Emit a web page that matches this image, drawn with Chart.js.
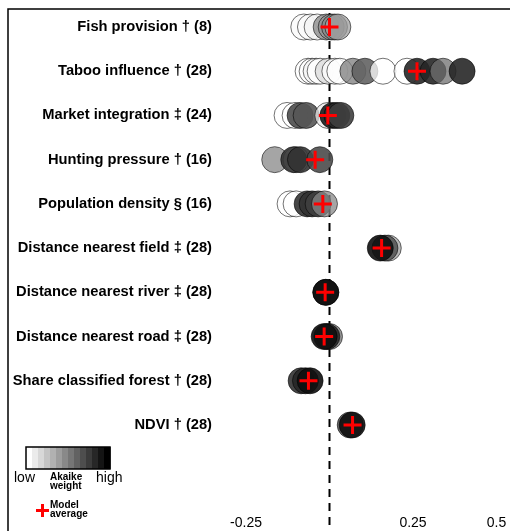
<!DOCTYPE html>
<html>
<head>
<meta charset="utf-8">
<script src="https://cdn.jsdelivr.net/npm/chart.js@4/dist/chart.umd.min.js"></script>
<style>
  html, body { margin: 0; padding: 0; background: #fff; }
  #wrap { width: 510px; height: 531px; position: relative; }
</style>
</head>
<body>
<div id="wrap"><canvas id="chart"></canvas></div>
<script>
// row labels (top to bottom)
const rowNames = [
    'Fish provision \u2020 (8)',
    'Taboo influence \u2020 (28)',
    'Market integration \u2021 (24)',
    'Hunting pressure \u2020 (16)',
    'Population density \u00a7 (16)',
    'Distance nearest field \u2021 (28)',
    'Distance nearest river \u2021 (28)',
    'Distance nearest road \u2021 (28)',
    'Share classified forest \u2020 (28)',
    'NDVI \u2020 (28)'
];

// model estimates per row, and their Akaike weights (0 = low, 1 = high)
const estimates = [
    [-0.077, -0.057, -0.037, -0.01, 0.005, 0.015, 0.025],
    [-0.064, -0.052, -0.040, -0.028, -0.004, 0.016, 0.031, 0.070, 0.106, 0.160, 0.232, 0.262, 0.310, 0.340, 0.397],
    [-0.127, -0.103, -0.088, -0.070, -0.005, 0.010, 0.022, 0.034],
    [-0.164, -0.100, -0.107, -0.087, -0.029],
    [-0.118, -0.100, -0.067, -0.052, -0.034, -0.015],
    [0.176, 0.166, 0.152],
    [-0.011, -0.011],
    [0.000, -0.008, -0.016],
    [-0.085, -0.072, -0.058],
    [0.062, 0.068]
];
const weights = [
    [0.02, 0.02, 0.05, 0.5, 0.45, 0.5, 0.4],
    [0, 0, 0.05, 0, 0.15, 0, 0, 0.55, 0.65, 0, 0, 0.9, 0.9, 0.6, 0.9],
    [0, 0, 0.75, 0.7, 0.1, 0.95, 0.9, 0.8],
    [0.5, 0, 0.85, 0.85, 0.75],
    [0, 0, 0.85, 0.85, 0.8, 0.5],
    [0.4, 0.7, 1],
    [0.9, 1],
    [0.6, 0.9, 1],
    [0.85, 0.9, 1],
    [0.7, 1]
];

// model-averaged estimate per row
const modelAverage = [0.0, 0.262, -0.005, -0.043, -0.02, 0.156, -0.013, -0.016, -0.063, 0.069];

// x axis tick labels
const xTicks = [-0.25, 0.25, 0.5];

const FONT = 'Liberation Sans, Arial, sans-serif';

function weightColor(w) {
    const g = Math.round(255 - 240 * w);
    return `rgba(${g}, ${g}, ${g}, ${w > 0.6 ? 0.9 : 0.75})`;
}

const modelPoints = [];
const modelColors = [];
estimates.forEach((row, i) => {
    row.forEach((v, j) => {
        modelPoints.push({ x: v, y: i });
        modelColors.push(weightColor(weights[i][j]));
    });
});

const avgPoints = modelAverage.map((v, i) => ({ x: v, y: i }));

// frame, dashed zero line and the legend box
const decorations = {
    id: 'decorations',
    beforeDatasetsDraw(chart) {
        const ctx = chart.ctx;
        const x0 = chart.scales.x.getPixelForValue(0);
        ctx.save();
        ctx.strokeStyle = '#000';
        ctx.lineWidth = 2;
        ctx.setLineDash([8, 6]);
        ctx.beginPath();
        ctx.moveTo(x0, 13);
        ctx.lineTo(x0, 531);
        ctx.stroke();
        ctx.restore();
    },
    afterDraw(chart) {
        const ctx = chart.ctx;
        ctx.save();
        // frame
        ctx.strokeStyle = '#000';
        ctx.lineWidth = 1.5;
        ctx.beginPath();
        ctx.moveTo(8, 531);
        ctx.lineTo(8, 9);
        ctx.lineTo(510, 9);
        ctx.stroke();

        // weight gradient
        const bx = 26, by = 447, bw = 84, bh = 22, steps = 14;
        for (let i = 0; i < steps; i++) {
            const g = Math.round(255 - 255 * i / (steps - 1));
            ctx.fillStyle = `rgb(${g},${g},${g})`;
            ctx.fillRect(bx + i * bw / steps, by, bw / steps + 0.5, bh);
        }
        ctx.strokeStyle = '#000';
        ctx.lineWidth = 1.5;
        ctx.strokeRect(bx, by, bw, bh);

        ctx.fillStyle = '#000';
        ctx.textBaseline = 'middle';
        ctx.font = '14px ' + FONT;
        ctx.textAlign = 'left';
        ctx.fillText('low', 14, 478);
        ctx.fillText('high', 96, 478);
        ctx.font = 'bold 10px ' + FONT;
        ctx.fillText('Akaike', 50, 477);
        ctx.fillText('weight', 50, 486);
        ctx.fillText('Model', 50, 505);
        ctx.fillText('average', 50, 514);

        // model average glyph
        ctx.strokeStyle = '#ff0000';
        ctx.lineWidth = 3;
        ctx.beginPath();
        ctx.moveTo(36, 510.5);
        ctx.lineTo(49, 510.5);
        ctx.moveTo(42.5, 504);
        ctx.lineTo(42.5, 517);
        ctx.stroke();
        ctx.restore();
    }
};

new Chart(document.getElementById('chart'), {
    type: 'scatter',
    data: {
        datasets: [{
            label: 'Models',
            order: 1,
            data: modelPoints,
            pointBackgroundColor: modelColors,
            pointBorderColor: 'rgba(0, 0, 0, 0.55)',
            pointBorderWidth: 1,
            pointRadius: 13,
            pointHoverRadius: 13
        }, {
            label: 'Model average',
            order: 0,
            data: avgPoints,
            pointStyle: 'cross',
            pointBorderColor: '#ff0000',
            pointBorderWidth: 3,
            pointRadius: 9,
            pointHoverRadius: 9
        }]
    },
    options: {
        responsive: true,
        maintainAspectRatio: false,
        animation: false,
        devicePixelRatio: 1,
        layout: { autoPadding: false, padding: { top: 9, left: 0, right: 0, bottom: 0 } },
        plugins: {
            legend: { display: false },
            tooltip: { enabled: false }
        },
        scales: {
            x: {
                type: 'linear',
                min: (218 - 329.5) / 334,
                max: (510 - 329.5) / 334,
                afterBuildTicks: s => { s.ticks = xTicks.map(v => ({ value: v })); },
                afterFit: s => { s.height = 20.4; s.paddingLeft = 0; s.paddingRight = 0; },
                grid: { display: false, drawTicks: false },
                border: { display: false },
                ticks: {
                    autoSkip: false,
                    maxRotation: 0,
                    padding: 4,
                    color: '#000',
                    font: { family: FONT, size: 14 },
                    callback: v => String(v)
                }
            },
            y: {
                type: 'linear',
                reverse: true,
                min: -18 / 44.22,
                max: 9 + (510.6 - 425) / 44.22,
                afterBuildTicks: s => { s.ticks = rowNames.map((_, i) => ({ value: i })); },
                afterFit: s => { s.width = 218; s.paddingTop = 0; s.paddingBottom = 0; },
                grid: { display: false, drawTicks: false },
                border: { display: false },
                ticks: {
                    autoSkip: false,
                    padding: 6,
                    color: '#000',
                    font: { family: FONT, size: 14.7, weight: 'bold' },
                    callback: v => rowNames[v]
                }
            }
        }
    },
    plugins: [decorations]
});
</script>
</body>
</html>
